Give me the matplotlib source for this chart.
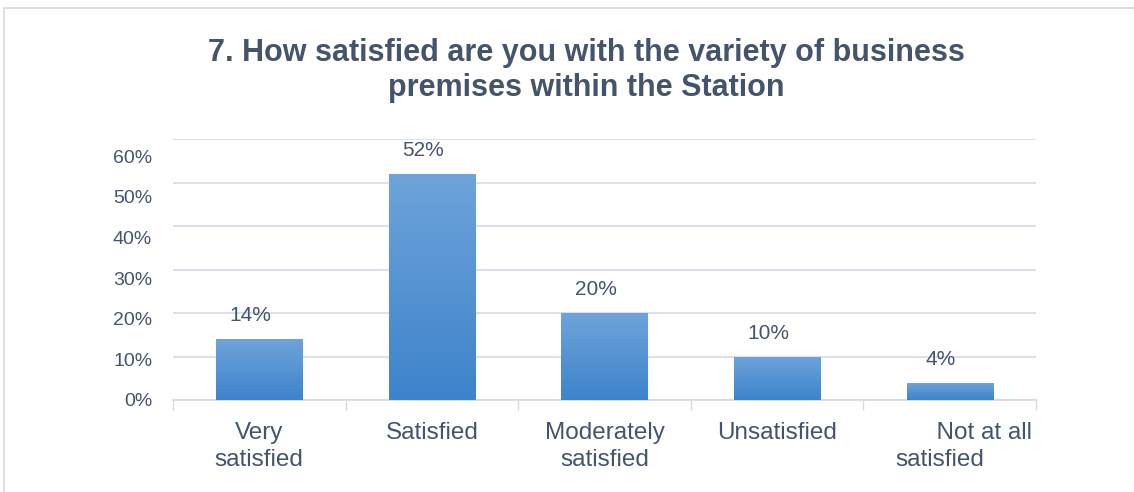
import numpy as np
import matplotlib.pyplot as plt
import matplotlib.transforms as mtransforms
from matplotlib.colors import LinearSegmentedColormap
from matplotlib.patches import Rectangle

# survey answers (percent of respondents)
categorias = ["Very\nsatisfied", "Satisfied", "Moderately\nsatisfied",
              "Unsatisfied", "      Not at all\nsatisfied"]
valores = [14, 52, 20, 10, 4]
yticks = [0, 10, 20, 30, 40, 50, 60]

titulo = "7. How satisfied are you with the variety of business\npremises within the Station"

texto = "#44546a"
rejilla = "#dde1ea"
plt.rcParams['font.family'] = ['Liberation Sans', 'DejaVu Sans']

fig = plt.figure(figsize=(11.34, 4.92), dpi=100)
W, H = 1134, 492

# outer chart frame
fig.patches.append(Rectangle((4 / W, -0.1), 1.2, 1.1 - 8 / H, transform=fig.transFigure,
                             fill=False, edgecolor="#d9d9d9", lw=1.2))

pos = [173 / W, (H - 400) / H, (1036 - 173) / W, (400 - 139) / H]
ax = fig.add_axes(pos)
x = np.arange(len(valores))
barras = ax.bar(x, valores, width=0.5, color="none", zorder=3)

# vertical gradient inside each bar
cmap = LinearSegmentedColormap.from_list("azul", ["#3d83cb", "#6ea4da"])
grad = np.linspace(0, 1, 256).reshape(-1, 1)
for b in barras:
    x0, y0 = b.get_x(), b.get_y()
    im = ax.imshow(grad, cmap=cmap, origin="lower", aspect="auto", zorder=3,
                   extent=[x0, x0 + b.get_width(), y0, y0 + b.get_height()])
    im.set_clip_path(b)

for xi, v in zip(x, valores):
    ax.annotate(f"{v}%", (xi - 0.05, v), xytext=(0, 10), textcoords="offset points",
                ha="center", va="bottom", fontsize=15, color=texto)

ax.set_xlim(-0.5, len(valores) - 0.5)
ax.set_ylim(0, 60)
ax.set_yticks(yticks)
ax.set_yticklabels([])
ax.set_xticks(x)
ax.set_xticklabels(categorias, fontsize=17.5, color=texto, linespacing=1.28)
ax.set_xticks(np.arange(len(valores) + 1) - 0.5, minor=True)
ax.tick_params(axis="x", which="major", length=0, pad=16)
ax.tick_params(axis="x", which="minor", length=7, color="#d9d9d9", width=1)
ax.tick_params(axis="y", length=0)
ult = ax.get_xticklabels()[-1]
ult.set_multialignment("left")
ult.set_transform(ult.get_transform() + mtransforms.Affine2D().translate(14, 0))

ax.grid(axis="y", color=rejilla, lw=1.5, zorder=0)
for s in ["top", "right", "left"]:
    ax.spines[s].set_visible(False)
ax.spines["bottom"].set_color("#d9d9d9")
ax.spines["bottom"].set_linewidth(1.2)

# percentage labels on a separate, slightly compressed scale
ax_lab = fig.add_axes(pos, frameon=False)
ax_lab.set_ylim(0, 64.2)
ax_lab.set_yticks(yticks)
ax_lab.set_yticklabels([f"{t}%" for t in yticks])
ax_lab.set_xticks([])
ax_lab.tick_params(axis="y", length=0, pad=15, labelsize=14, labelcolor=texto)
ax_lab.patch.set_visible(False)

fig.text(586 / W, 1 - 38 / H, titulo, ha="center", va="top", fontsize=22,
         fontweight="bold", color=texto, linespacing=1.22)

fig.savefig("out.png", dpi=100)
